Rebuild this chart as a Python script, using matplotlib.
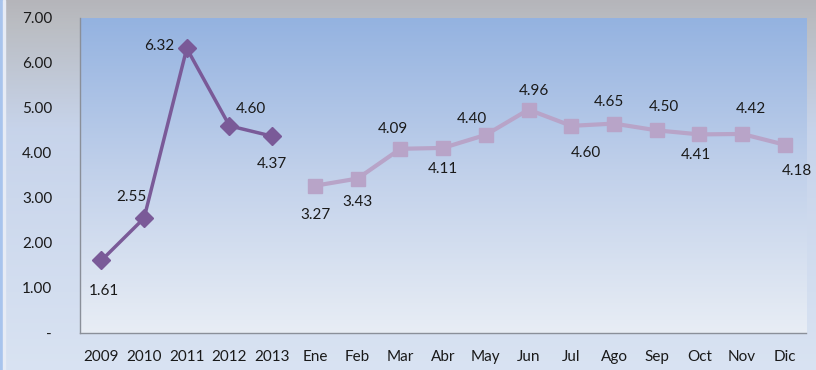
import numpy as np
from matplotlib import pyplot as plt
from matplotlib.colors import LinearSegmentedColormap

plt.rcParams['font.family'] = ['Lato', 'DejaVu Sans']

categories = ["2009", "2010", "2011", "2012", "2013", "Ene", "Feb", "Mar", "Abr",
              "May", "Jun", "Jul", "Ago", "Sep", "Oct", "Nov", "Dic"]
annual_values = [1.61, 2.55, 6.32, 4.60, 4.37]
monthly_values = [3.27, 3.43, 4.09, 4.11, 4.40, 4.96, 4.60, 4.65, 4.50, 4.41, 4.42, 4.18]
y_ticks = [0, 1, 2, 3, 4, 5, 6, 7]
y_tick_labels = ["-", "1.00", "2.00", "3.00", "4.00", "5.00", "6.00", "7.00"]

# label offsets in pixels (dx, dy)
annual_offsets = [(3, -31), (-13, 21), (-28, 2), (21, 17), (0, -28)]
monthly_offsets = [(1, -29), (0, -23), (-7, 20), (0, -21), (-14, 16), (5, 19),
                   (15, -27), (-5, 22), (7, 23), (-4, -21), (9, 25), (12, -26)]

fig = plt.figure(figsize=(8.16, 3.70), dpi=100)

# figure background gradient
bg = fig.add_axes([0, 0, 1, 1], zorder=-2)
bg_cmap = LinearSegmentedColormap.from_list(
    "bg", [(0.0, (0.71, 0.71, 0.73)), (0.06, (0.73, 0.74, 0.76)),
           (0.35, (0.78, 0.83, 0.92)), (1.0, (0.85, 0.89, 0.95))])
bg.imshow(np.linspace(0, 1, 256).reshape(-1, 1), aspect="auto", cmap=bg_cmap,
          extent=[0, 1, 1, 0])
bg.add_patch(plt.Rectangle((0, 0), 0.004, 1, color=(0.66, 0.77, 0.93)))
bg.add_patch(plt.Rectangle((0.004, 0), 0.002, 1, color=(0.90, 0.92, 0.96)))
bg.set_xlim(0, 1)
bg.set_ylim(1, 0)
bg.axis("off")

ax = fig.add_axes([0.098, 0.1, 0.89, 0.852])
ax.set_facecolor("none")
plot_cmap = LinearSegmentedColormap.from_list(
    "plot", [(0.0, (0.58, 0.70, 0.88)), (0.5, (0.76, 0.82, 0.92)), (1.0, (0.91, 0.93, 0.96))])
ax.imshow(np.linspace(0, 1, 256).reshape(-1, 1), aspect="auto", cmap=plot_cmap,
          extent=[0, 1, 0, 1], transform=ax.transAxes, zorder=0)

x = np.arange(len(categories))
xa = x[:len(annual_values)]
xm = x[len(annual_values):]

ax.plot(xa, annual_values, color="#7a5a98", lw=2.5, marker="D", markersize=9, zorder=3)
ax.plot(xm, monthly_values, color="#b8a4c8", lw=3, marker="s", markersize=10, zorder=3)

for xi, v, (dx, dy) in zip(xa, annual_values, annual_offsets):
    ax.annotate(f"{v:.2f}", (xi, v), xytext=(dx, dy), textcoords="offset pixels",
                ha="center", va="center", fontsize=11, color="#1a1a1a", zorder=4)
for xi, v, (dx, dy) in zip(xm, monthly_values, monthly_offsets):
    ax.annotate(f"{v:.2f}", (xi, v), xytext=(dx, dy), textcoords="offset pixels",
                ha="center", va="center", fontsize=11, color="#1a1a1a", zorder=4)

ax.set_xlim(-0.5, len(categories) - 0.5)
ax.set_ylim(0, 7)
ax.set_xticks(x)
ax.set_xticklabels(categories, fontsize=11, color="#1a1a1a")
ax.set_yticks(y_ticks)
ax.set_yticklabels(y_tick_labels, fontsize=11, color="#1a1a1a")
ax.tick_params(length=0)
ax.tick_params(axis="y", pad=20)
ax.tick_params(axis="x", pad=12)

for side in ["top", "right"]:
    ax.spines[side].set_visible(False)
for side in ["left", "bottom"]:
    ax.spines[side].set_color("#8a8f99")
    ax.spines[side].set_linewidth(1)

fig.savefig("out.png", dpi=100)
